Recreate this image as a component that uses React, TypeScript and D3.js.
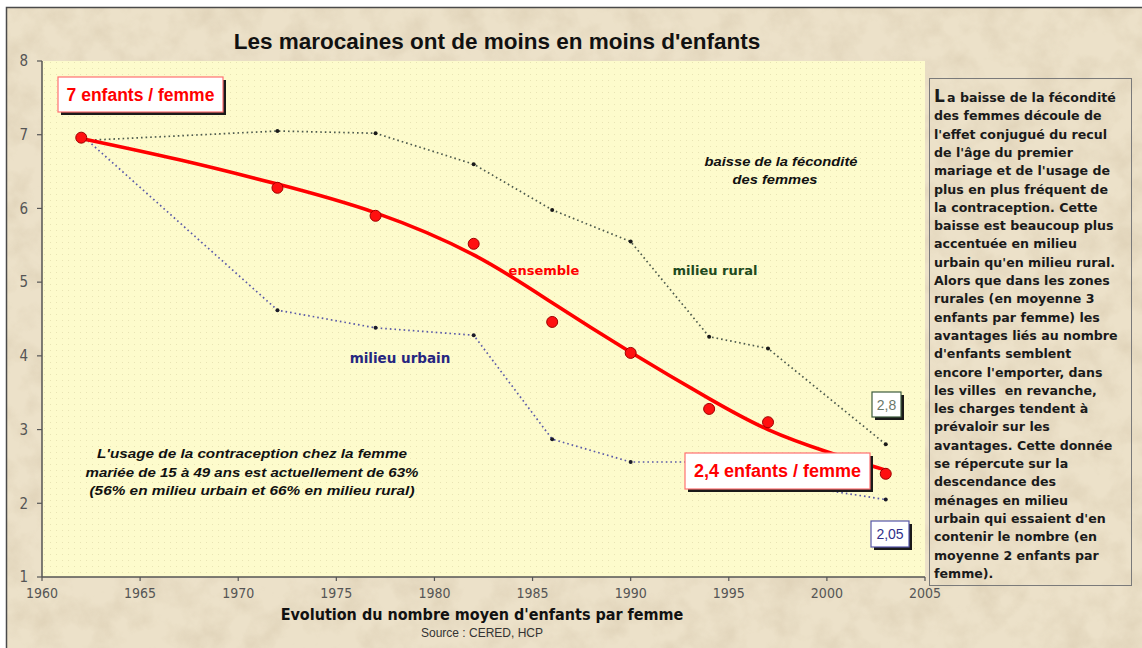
import React from "react";
import * as d3 from "d3";

// years of the surveys
const years = [1962, 1972, 1977, 1982, 1986, 1990, 1994, 1997, 2003];
// average number of children per woman
const ensemble = [6.96, 6.28, 5.9, 5.52, 4.46, 4.04, 3.28, 3.1, 2.4];
const rural = [6.92, 7.05, 7.02, 6.6, 5.98, 5.55, 4.26, 4.1, 2.8];
const urbain = [7.0, 4.62, 4.38, 4.28, 2.87, 2.56, 2.56, 2.3, 2.05];

// red trend curve
const trendYears = [1962, 1967, 1972, 1977, 1982, 1986, 1990, 1994, 1997, 2000, 2003];
const trendValues = [6.95, 6.66, 6.33, 5.94, 5.37, 4.72, 4.05, 3.42, 3.0, 2.7, 2.45];

const xTicks = [1960, 1965, 1970, 1975, 1980, 1985, 1990, 1995, 2000, 2005];
const yTicks = [1, 2, 3, 4, 5, 6, 7, 8];

const sideText = [
  "a baisse de la fécondité",
  "des femmes découle de",
  "l'effet conjugué du recul",
  "de l'âge du premier",
  "mariage et de l'usage de",
  "plus en plus fréquent de",
  "la contraception. Cette",
  "baisse est beaucoup plus",
  "accentuée en milieu",
  "urbain qu'en milieu rural.",
  "Alors que dans les zones",
  "rurales (en moyenne 3",
  "enfants par femme) les",
  "avantages liés au nombre",
  "d'enfants semblent",
  "encore l'emporter, dans",
  "les villes  en revanche,",
  "les charges tendent à",
  "prévaloir sur les",
  "avantages. Cette donnée",
  "se répercute sur la",
  "descendance des",
  "ménages en milieu",
  "urbain qui essaient d'en",
  "contenir le nombre (en",
  "moyenne 2 enfants par",
  "femme).",
];

const contraception = [
  "L'usage de la contraception chez la femme",
  "mariée de 15 à 49 ans est actuellement de 63%",
  "(56% en milieu urbain et 66% en milieu rural)",
];
const contraceptionWidths = [310, 333, 325];

const narrow = "'Liberation Sans Narrow', 'DejaVu Sans Condensed', sans-serif";
const arial = "'Liberation Sans', Arial, sans-serif";
const verdana = "'DejaVu Sans', Verdana, sans-serif";

function LabelBox({ x, y, w, h, text, size, color, stroke, weight = "bold" }: any) {
  return (
    <g>
      <rect x={x + 3} y={y + 3} width={w} height={h} fill="#1a1a1a" />
      <rect x={x} y={y} width={w} height={h} fill="#ffffff" stroke={stroke} strokeWidth={1.2} />
      <text x={x + w / 2} y={y + h / 2} dy="0.36em" textAnchor="middle" fontFamily={arial}
        fontWeight={weight} fontSize={size} fill={color}>{text}</text>
    </g>
  );
}

export default function App() {
  const W = 1142, H = 648;
  const left = 42, right = 925, top = 61, bottom = 577;
  const x = d3.scaleLinear([1960, 2005], [left, right]);
  const y = d3.scaleLinear([1, 8], [bottom, top]);

  const pts = (yrs: number[], vals: number[]) =>
    yrs.map((yr, i) => [x(yr), y(vals[i])] as [number, number]);
  const line = d3.line();
  const smooth = d3.line().curve(d3.curveNatural);

  return (
    <svg width={W} height={H} style={{ position: "absolute", left: 0, top: 0 }}>
      <defs>
        <filter id="paper" x="0" y="0" width="100%" height="100%">
          <feTurbulence type="fractalNoise" baseFrequency="0.035" numOctaves={4} seed={7} />
          <feColorMatrix type="matrix"
            values="0 0 0 0 0.62  0 0 0 0 0.52  0 0 0 0 0.36  1.4 0 0 0 -0.55" />
        </filter>
        <pattern id="dots" width={6} height={6} patternUnits="userSpaceOnUse">
          <rect width={6} height={6} fill="#fdfbcc" />
          <rect x={2} y={2} width={1} height={1} fill="#e8e4b4" />
        </pattern>
      </defs>
      <rect width={W} height={H} fill="#ffffff" />
      <rect x={6} y={7} width={W} height={H} fill="#ece1c9" />
      <rect x={6} y={7} width={W} height={H} filter="url(#paper)" opacity={0.55} />
      <rect x={6.5} y={7.5} width={W} height={H} fill="none" stroke="#4a4a4a" strokeWidth={1.5} />

      <text x={497} y={49} textAnchor="middle" fontFamily={arial} fontWeight="bold" fontSize={22.5} fill="#111">
        Les marocaines ont de moins en moins d'enfants
      </text>

      {/* plot area */}
      <rect x={left} y={top} width={right - left} height={bottom - top} fill="url(#dots)" />

      {/* axes */}
      <line x1={left} x2={left} y1={top} y2={bottom} stroke="#555" strokeWidth={1.5} />
      <line x1={left} x2={right} y1={bottom} y2={bottom} stroke="#555" strokeWidth={1.5} />
      {yTicks.map((v) => (
        <g key={v}>
          <line x1={left - 5} x2={left} y1={y(v)} y2={y(v)} stroke="#555" strokeWidth={1.2} />
          <text x={left - 14} y={y(v)} dy="0.35em" textAnchor="end" fontFamily={narrow}
            fontSize={15} fill="#555">{v}</text>
        </g>
      ))}
      {xTicks.map((v) => (
        <g key={v}>
          <line x1={x(v)} x2={x(v)} y1={bottom} y2={bottom + 4} stroke="#555" strokeWidth={1.2} />
          <text x={x(v)} y={bottom + 21} textAnchor="middle" fontFamily={narrow}
            fontSize={14} fill="#555">{v}</text>
        </g>
      ))}

      {/* rural */}
      <path d={line(pts(years, rural)) || ""} fill="none" stroke="#4d5a4d" strokeWidth={1.7}
        strokeDasharray="1.6 3" />
      {pts(years, rural).map(([px, py], i) => (
        <circle key={"r" + i} cx={px} cy={py} r={2} fill="#1a1a1a" />
      ))}
      {/* urbain */}
      <path d={line(pts(years, urbain)) || ""} fill="none" stroke="#5a5aa8" strokeWidth={1.7}
        strokeDasharray="1.6 3" />
      {pts(years, urbain).map(([px, py], i) => (
        <circle key={"u" + i} cx={px} cy={py} r={2} fill="#1a1a2a" />
      ))}

      {/* ensemble trend + points */}
      <path d={smooth(pts(trendYears, trendValues)) || ""} fill="none" stroke="#ff0000" strokeWidth={3.6}
        strokeLinecap="round" />
      {pts(years, ensemble).map(([px, py], i) => (
        <circle key={"e" + i} cx={px} cy={py} r={5.5} fill="#ff1010" stroke="#a00000" strokeWidth={1} />
      ))}

      {/* annotations */}
      <text x={544} y={270} dy="0.35em" textAnchor="middle" fontFamily={verdana} fontWeight="bold"
        fontSize={13} fill="#ff0000">ensemble</text>
      <text x={715} y={270} dy="0.35em" textAnchor="middle" fontFamily={verdana} fontWeight="bold"
        fontSize={13} fill="#1e4a1e">milieu rural</text>
      <text x={400} y={358} dy="0.35em" textAnchor="middle" fontFamily={verdana} fontWeight="bold"
        fontSize={13.5} fill="#262680">milieu urbain</text>
      <text textAnchor="middle" fontFamily={arial} fontWeight="bold" fontStyle="italic" fontSize={13.5} fill="#111">
        <tspan x={781} y={166} textLength={153} lengthAdjust="spacingAndGlyphs">baisse de la fécondité</tspan>
        <tspan x={775} y={184} textLength={85} lengthAdjust="spacingAndGlyphs">des femmes</tspan>
      </text>
      <text textAnchor="middle" fontFamily={arial} fontWeight="bold" fontStyle="italic" fontSize={13.5} fill="#111">
        {contraception.map((s, i) => (
          <tspan key={i} x={252} y={458 + i * 18.5} textLength={contraceptionWidths[i]}
            lengthAdjust="spacingAndGlyphs">{s}</tspan>
        ))}
      </text>

      <LabelBox x={58} y={77} w={165} h={35} text="7 enfants / femme" size={17.5} color="#ff0000" stroke="#ff7070" />
      <LabelBox x={685} y={453} w={185} h={36} text="2,4 enfants / femme" size={18} color="#ff0000" stroke="#ff7070" />
      <LabelBox x={872} y={392} w={29} h={25} text="2,8" size={14} color="#6a786a" stroke="#3c5a3c" weight="normal" />
      <LabelBox x={871} y={521} w={38} h={26} text="2,05" size={14} color="#30308a" stroke="#5555aa" weight="normal" />

      {/* side comment */}
      <rect x={929.5} y={78.5} width={202} height={507} fill="none" stroke="#7a7a7a" strokeWidth={1} />
      <text fontFamily={verdana} fontWeight="bold" fontSize={12.6} fill="#1a1a1a" style={{ whiteSpace: "pre" }}>
        {sideText.map((s, i) => (
          <tspan key={i} x={i === 0 ? 947 : 934} y={102 + i * 18.3}>{s}</tspan>
        ))}
      </text>
      <text x={934} y={102} fontFamily={verdana} fontWeight="bold" fontSize={17} fill="#1a1a1a">L</text>

      {/* axis titles */}
      <text x={482} y={620} textAnchor="middle" fontFamily={narrow} fontWeight="bold" fontSize={16} fill="#111">
        Evolution du nombre moyen d'enfants par femme
      </text>
      <text x={482} y={637} textAnchor="middle" fontFamily={arial} fontSize={12} fill="#333">
        Source : CERED, HCP
      </text>
    </svg>
  );
}
